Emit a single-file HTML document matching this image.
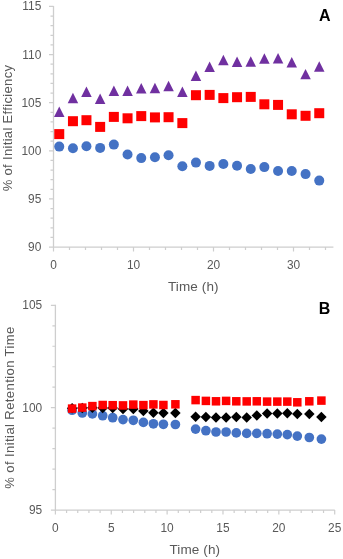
<!DOCTYPE html>
<html><head><meta charset="utf-8"><title>Chart</title>
<style>html,body{margin:0;padding:0;background:#fff}svg{display:block}</style>
</head><body>
<svg width="343" height="559" viewBox="0 0 343 559">
<rect width="343" height="559" fill="#fff"/>
<path d="M53.5 5.95V247.1H333.40000000000003" fill="none" stroke="#cecece" stroke-width="1.3"/>
<path d="M50.50 6.45H53.5M50.50 16.08H53.5M50.50 25.70H53.5M50.50 35.33H53.5M50.50 44.95H53.5M50.50 54.58H53.5M50.50 64.21H53.5M50.50 73.83H53.5M50.50 83.46H53.5M50.50 93.08H53.5M50.50 102.71H53.5M50.50 112.34H53.5M50.50 121.96H53.5M50.50 131.59H53.5M50.50 141.21H53.5M50.50 150.84H53.5M50.50 160.47H53.5M50.50 170.09H53.5M50.50 179.72H53.5M50.50 189.34H53.5M50.50 198.97H53.5M50.50 208.60H53.5M50.50 218.22H53.5M50.50 227.85H53.5M50.50 237.47H53.5M50.50 247.10H53.5M49.00 6.45H53.5M49.00 54.58H53.5M49.00 102.71H53.5M49.00 150.84H53.5M49.00 198.97H53.5M49.00 247.10H53.5M53.50 247.1v3.0M69.50 247.1v3.0M85.50 247.1v3.0M101.50 247.1v3.0M117.50 247.1v3.0M133.50 247.1v3.0M149.50 247.1v3.0M165.50 247.1v3.0M181.50 247.1v3.0M197.50 247.1v3.0M213.50 247.1v3.0M229.50 247.1v3.0M245.50 247.1v3.0M261.50 247.1v3.0M277.50 247.1v3.0M293.50 247.1v3.0M309.50 247.1v3.0M325.50 247.1v3.0M53.50 247.1v4.5M133.50 247.1v4.5M213.50 247.1v4.5M293.50 247.1v4.5" fill="none" stroke="#cecece" stroke-width="1.2"/>
<text x="41.3" y="10.45" text-anchor="end" font-size="11.9" fill="#595959" font-family="Liberation Sans, Arial, sans-serif">115</text>
<text x="41.3" y="58.58" text-anchor="end" font-size="11.9" fill="#595959" font-family="Liberation Sans, Arial, sans-serif">110</text>
<text x="41.3" y="106.71" text-anchor="end" font-size="11.9" fill="#595959" font-family="Liberation Sans, Arial, sans-serif">105</text>
<text x="41.3" y="154.84" text-anchor="end" font-size="11.9" fill="#595959" font-family="Liberation Sans, Arial, sans-serif">100</text>
<text x="41.3" y="202.97" text-anchor="end" font-size="11.9" fill="#595959" font-family="Liberation Sans, Arial, sans-serif">95</text>
<text x="41.3" y="251.10" text-anchor="end" font-size="11.9" fill="#595959" font-family="Liberation Sans, Arial, sans-serif">90</text>
<text x="53.50" y="268.8" text-anchor="middle" font-size="11.9" fill="#595959" font-family="Liberation Sans, Arial, sans-serif">0</text>
<text x="133.50" y="268.8" text-anchor="middle" font-size="11.9" fill="#595959" font-family="Liberation Sans, Arial, sans-serif">10</text>
<text x="213.50" y="268.8" text-anchor="middle" font-size="11.9" fill="#595959" font-family="Liberation Sans, Arial, sans-serif">20</text>
<text x="293.50" y="268.8" text-anchor="middle" font-size="11.9" fill="#595959" font-family="Liberation Sans, Arial, sans-serif">30</text>
<text x="193.3" y="290.8" text-anchor="middle" font-size="13.5" letter-spacing="0.12" fill="#595959" font-family="Liberation Sans, Arial, sans-serif">Time (h)</text>
<text transform="translate(12.2 128) rotate(-90)" text-anchor="middle" font-size="13.0" letter-spacing="0.33" fill="#595959" font-family="Liberation Sans, Arial, sans-serif">% of Initial Efficiency</text>
<text x="318.9" y="20.7" font-size="16" font-weight="bold" fill="#000" font-family="Liberation Sans, Arial, sans-serif">A</text>
<circle cx="59.25" cy="146.6" r="5" fill="#4472c4"/>
<circle cx="72.95" cy="148.2" r="5" fill="#4472c4"/>
<circle cx="86.45" cy="146.29999999999998" r="5" fill="#4472c4"/>
<circle cx="100.15" cy="147.89999999999998" r="5" fill="#4472c4"/>
<circle cx="113.85000000000001" cy="144.6" r="5" fill="#4472c4"/>
<circle cx="127.55000000000001" cy="154.5" r="5" fill="#4472c4"/>
<circle cx="141.25" cy="158.1" r="5" fill="#4472c4"/>
<circle cx="154.95000000000002" cy="157.2" r="5" fill="#4472c4"/>
<circle cx="168.55" cy="155.2" r="5" fill="#4472c4"/>
<circle cx="182.35" cy="166.29999999999998" r="5" fill="#4472c4"/>
<circle cx="195.95000000000002" cy="162.6" r="5" fill="#4472c4"/>
<circle cx="209.65" cy="165.89999999999998" r="5" fill="#4472c4"/>
<circle cx="223.35" cy="163.99999999999997" r="5" fill="#4472c4"/>
<circle cx="237.05" cy="165.7" r="5" fill="#4472c4"/>
<circle cx="250.75" cy="169.0" r="5" fill="#4472c4"/>
<circle cx="264.34999999999997" cy="167.1" r="5" fill="#4472c4"/>
<circle cx="278.04999999999995" cy="171.0" r="5" fill="#4472c4"/>
<circle cx="291.75" cy="170.99999999999997" r="5" fill="#4472c4"/>
<circle cx="305.54999999999995" cy="174.1" r="5" fill="#4472c4"/>
<circle cx="319.25" cy="180.6" r="5" fill="#4472c4"/>
<rect x="54.25" y="129.10" width="10" height="10" fill="#ff0000"/>
<rect x="67.95" y="116.20" width="10" height="10" fill="#ff0000"/>
<rect x="81.45" y="115.20" width="10" height="10" fill="#ff0000"/>
<rect x="95.15" y="121.90" width="10" height="10" fill="#ff0000"/>
<rect x="108.85" y="111.90" width="10" height="10" fill="#ff0000"/>
<rect x="122.55" y="113.30" width="10" height="10" fill="#ff0000"/>
<rect x="136.25" y="111.10" width="10" height="10" fill="#ff0000"/>
<rect x="149.95" y="112.40" width="10" height="10" fill="#ff0000"/>
<rect x="163.55" y="112.20" width="10" height="10" fill="#ff0000"/>
<rect x="177.35" y="118.10" width="10" height="10" fill="#ff0000"/>
<rect x="190.95" y="90.20" width="10" height="10" fill="#ff0000"/>
<rect x="204.65" y="89.90" width="10" height="10" fill="#ff0000"/>
<rect x="218.35" y="93.10" width="10" height="10" fill="#ff0000"/>
<rect x="232.05" y="92.20" width="10" height="10" fill="#ff0000"/>
<rect x="245.75" y="91.90" width="10" height="10" fill="#ff0000"/>
<rect x="259.35" y="99.30" width="10" height="10" fill="#ff0000"/>
<rect x="273.05" y="99.90" width="10" height="10" fill="#ff0000"/>
<rect x="286.75" y="109.30" width="10" height="10" fill="#ff0000"/>
<rect x="300.55" y="110.80" width="10" height="10" fill="#ff0000"/>
<rect x="314.25" y="108.20" width="10" height="10" fill="#ff0000"/>
<path d="M54.00 116.95L59.25 106.50L64.50 116.95Z" fill="#7030a0"/>
<path d="M67.70 103.25L72.95 92.80L78.20 103.25Z" fill="#7030a0"/>
<path d="M81.20 96.95L86.45 86.50L91.70 96.95Z" fill="#7030a0"/>
<path d="M94.90 104.05L100.15 93.60L105.40 104.05Z" fill="#7030a0"/>
<path d="M108.60 96.05L113.85 85.60L119.10 96.05Z" fill="#7030a0"/>
<path d="M122.30 96.05L127.55 85.60L132.80 96.05Z" fill="#7030a0"/>
<path d="M136.00 93.45L141.25 83.00L146.50 93.45Z" fill="#7030a0"/>
<path d="M149.70 93.25L154.95 82.80L160.20 93.25Z" fill="#7030a0"/>
<path d="M163.30 91.25L168.55 80.80L173.80 91.25Z" fill="#7030a0"/>
<path d="M177.10 96.95L182.35 86.50L187.60 96.95Z" fill="#7030a0"/>
<path d="M190.70 80.95L195.95 70.50L201.20 80.95Z" fill="#7030a0"/>
<path d="M204.40 72.05L209.65 61.60L214.90 72.05Z" fill="#7030a0"/>
<path d="M218.10 65.15L223.35 54.70L228.60 65.15Z" fill="#7030a0"/>
<path d="M231.80 67.05L237.05 56.60L242.30 67.05Z" fill="#7030a0"/>
<path d="M245.50 66.65L250.75 56.20L256.00 66.65Z" fill="#7030a0"/>
<path d="M259.10 63.75L264.35 53.30L269.60 63.75Z" fill="#7030a0"/>
<path d="M272.80 63.45L278.05 53.00L283.30 63.45Z" fill="#7030a0"/>
<path d="M286.50 67.45L291.75 57.00L297.00 67.45Z" fill="#7030a0"/>
<path d="M300.30 79.35L305.55 68.90L310.80 79.35Z" fill="#7030a0"/>
<path d="M314.00 71.65L319.25 61.20L324.50 71.65Z" fill="#7030a0"/>
<path d="M55.4 304.8V510.1H334.8" fill="none" stroke="#cecece" stroke-width="1.3"/>
<path d="M52.40 305.30H55.4M52.40 325.78H55.4M52.40 346.26H55.4M52.40 366.74H55.4M52.40 387.22H55.4M52.40 407.70H55.4M52.40 428.18H55.4M52.40 448.66H55.4M52.40 469.14H55.4M52.40 489.62H55.4M52.40 510.10H55.4M50.90 305.30H55.4M50.90 407.70H55.4M50.90 510.10H55.4M55.40 510.1v3.0M66.57 510.1v3.0M77.74 510.1v3.0M88.92 510.1v3.0M100.09 510.1v3.0M111.26 510.1v3.0M122.43 510.1v3.0M133.60 510.1v3.0M144.78 510.1v3.0M155.95 510.1v3.0M167.12 510.1v3.0M178.29 510.1v3.0M189.46 510.1v3.0M200.64 510.1v3.0M211.81 510.1v3.0M222.98 510.1v3.0M234.15 510.1v3.0M245.32 510.1v3.0M256.50 510.1v3.0M267.67 510.1v3.0M278.84 510.1v3.0M290.01 510.1v3.0M301.18 510.1v3.0M312.36 510.1v3.0M323.53 510.1v3.0M334.70 510.1v3.0M55.40 510.1v4.5M111.26 510.1v4.5M167.12 510.1v4.5M222.98 510.1v4.5M278.84 510.1v4.5M334.70 510.1v4.5" fill="none" stroke="#cecece" stroke-width="1.2"/>
<text x="42.2" y="309.30" text-anchor="end" font-size="11.9" fill="#595959" font-family="Liberation Sans, Arial, sans-serif">105</text>
<text x="42.2" y="411.70" text-anchor="end" font-size="11.9" fill="#595959" font-family="Liberation Sans, Arial, sans-serif">100</text>
<text x="42.2" y="514.10" text-anchor="end" font-size="11.9" fill="#595959" font-family="Liberation Sans, Arial, sans-serif">95</text>
<text x="55.40" y="532.3" text-anchor="middle" font-size="11.9" fill="#595959" font-family="Liberation Sans, Arial, sans-serif">0</text>
<text x="111.26" y="532.3" text-anchor="middle" font-size="11.9" fill="#595959" font-family="Liberation Sans, Arial, sans-serif">5</text>
<text x="167.12" y="532.3" text-anchor="middle" font-size="11.9" fill="#595959" font-family="Liberation Sans, Arial, sans-serif">10</text>
<text x="222.98" y="532.3" text-anchor="middle" font-size="11.9" fill="#595959" font-family="Liberation Sans, Arial, sans-serif">15</text>
<text x="278.84" y="532.3" text-anchor="middle" font-size="11.9" fill="#595959" font-family="Liberation Sans, Arial, sans-serif">20</text>
<text x="334.70" y="532.3" text-anchor="middle" font-size="11.9" fill="#595959" font-family="Liberation Sans, Arial, sans-serif">25</text>
<text x="194.8" y="554.0" text-anchor="middle" font-size="13.5" letter-spacing="0.12" fill="#595959" font-family="Liberation Sans, Arial, sans-serif">Time (h)</text>
<text transform="translate(14.0 407.5) rotate(-90)" text-anchor="middle" font-size="13.0" letter-spacing="0.42" fill="#595959" font-family="Liberation Sans, Arial, sans-serif">% of Initial Retention Time</text>
<text x="318.8" y="313.5" font-size="16" font-weight="bold" fill="#000" font-family="Liberation Sans, Arial, sans-serif">B</text>
<circle cx="72.1" cy="410.2" r="4.85" fill="#4472c4"/>
<circle cx="82.3" cy="413.0" r="4.85" fill="#4472c4"/>
<circle cx="92.4" cy="413.9" r="4.85" fill="#4472c4"/>
<circle cx="102.7" cy="415.7" r="4.85" fill="#4472c4"/>
<circle cx="112.7" cy="417.7" r="4.85" fill="#4472c4"/>
<circle cx="123.0" cy="419.6" r="4.85" fill="#4472c4"/>
<circle cx="133.3" cy="420.3" r="4.85" fill="#4472c4"/>
<circle cx="143.4" cy="422.4" r="4.85" fill="#4472c4"/>
<circle cx="153.4" cy="423.8" r="4.85" fill="#4472c4"/>
<circle cx="163.4" cy="424.3" r="4.85" fill="#4472c4"/>
<circle cx="175.4" cy="424.5" r="4.85" fill="#4472c4"/>
<circle cx="195.6" cy="429.1" r="4.85" fill="#4472c4"/>
<circle cx="205.9" cy="430.7" r="4.85" fill="#4472c4"/>
<circle cx="216.0" cy="432.0" r="4.85" fill="#4472c4"/>
<circle cx="226.1" cy="432.0" r="4.85" fill="#4472c4"/>
<circle cx="236.3" cy="432.9" r="4.85" fill="#4472c4"/>
<circle cx="246.7" cy="433.4" r="4.85" fill="#4472c4"/>
<circle cx="256.8" cy="433.4" r="4.85" fill="#4472c4"/>
<circle cx="267.1" cy="433.7" r="4.85" fill="#4472c4"/>
<circle cx="277.3" cy="434.1" r="4.85" fill="#4472c4"/>
<circle cx="287.3" cy="434.6" r="4.85" fill="#4472c4"/>
<circle cx="297.3" cy="436.1" r="4.85" fill="#4472c4"/>
<circle cx="309.3" cy="437.5" r="4.85" fill="#4472c4"/>
<circle cx="321.4" cy="439.1" r="4.85" fill="#4472c4"/>
<path d="M66.85 408.30L72.10 403.05L77.35 408.30L72.10 413.55Z" fill="#000"/>
<path d="M77.05 408.10L82.30 402.85L87.55 408.10L82.30 413.35Z" fill="#000"/>
<path d="M87.15 407.70L92.40 402.45L97.65 407.70L92.40 412.95Z" fill="#000"/>
<path d="M97.45 407.90L102.70 402.65L107.95 407.90L102.70 413.15Z" fill="#000"/>
<path d="M107.45 408.10L112.70 402.85L117.95 408.10L112.70 413.35Z" fill="#000"/>
<path d="M117.75 408.90L123.00 403.65L128.25 408.90L123.00 414.15Z" fill="#000"/>
<path d="M128.05 408.90L133.30 403.65L138.55 408.90L133.30 414.15Z" fill="#000"/>
<path d="M138.15 411.10L143.40 405.85L148.65 411.10L143.40 416.35Z" fill="#000"/>
<path d="M148.15 412.80L153.40 407.55L158.65 412.80L153.40 418.05Z" fill="#000"/>
<path d="M158.15 412.90L163.40 407.65L168.65 412.90L163.40 418.15Z" fill="#000"/>
<path d="M170.15 413.10L175.40 407.85L180.65 413.10L175.40 418.35Z" fill="#000"/>
<path d="M190.35 416.70L195.60 411.45L200.85 416.70L195.60 421.95Z" fill="#000"/>
<path d="M200.65 417.10L205.90 411.85L211.15 417.10L205.90 422.35Z" fill="#000"/>
<path d="M210.75 417.40L216.00 412.15L221.25 417.40L216.00 422.65Z" fill="#000"/>
<path d="M220.85 417.40L226.10 412.15L231.35 417.40L226.10 422.65Z" fill="#000"/>
<path d="M231.05 417.10L236.30 411.85L241.55 417.10L236.30 422.35Z" fill="#000"/>
<path d="M241.45 417.60L246.70 412.35L251.95 417.60L246.70 422.85Z" fill="#000"/>
<path d="M251.55 415.40L256.80 410.15L262.05 415.40L256.80 420.65Z" fill="#000"/>
<path d="M261.85 413.60L267.10 408.35L272.35 413.60L267.10 418.85Z" fill="#000"/>
<path d="M272.05 413.60L277.30 408.35L282.55 413.60L277.30 418.85Z" fill="#000"/>
<path d="M282.05 413.20L287.30 407.95L292.55 413.20L287.30 418.45Z" fill="#000"/>
<path d="M292.05 413.90L297.30 408.65L302.55 413.90L297.30 419.15Z" fill="#000"/>
<path d="M304.05 413.90L309.30 408.65L314.55 413.90L309.30 419.15Z" fill="#000"/>
<path d="M316.15 417.10L321.40 411.85L326.65 417.10L321.40 422.35Z" fill="#000"/>
<rect x="67.85" y="404.35" width="8.5" height="8.5" fill="#ff0000"/>
<rect x="78.05" y="403.35" width="8.5" height="8.5" fill="#ff0000"/>
<rect x="88.15" y="401.85" width="8.5" height="8.5" fill="#ff0000"/>
<rect x="98.45" y="400.75" width="8.5" height="8.5" fill="#ff0000"/>
<rect x="108.45" y="400.95" width="8.5" height="8.5" fill="#ff0000"/>
<rect x="118.75" y="401.15" width="8.5" height="8.5" fill="#ff0000"/>
<rect x="129.05" y="400.35" width="8.5" height="8.5" fill="#ff0000"/>
<rect x="139.15" y="400.85" width="8.5" height="8.5" fill="#ff0000"/>
<rect x="149.15" y="400.15" width="8.5" height="8.5" fill="#ff0000"/>
<rect x="159.15" y="400.75" width="8.5" height="8.5" fill="#ff0000"/>
<rect x="171.15" y="400.05" width="8.5" height="8.5" fill="#ff0000"/>
<rect x="191.35" y="395.85" width="8.5" height="8.5" fill="#ff0000"/>
<rect x="201.65" y="396.65" width="8.5" height="8.5" fill="#ff0000"/>
<rect x="211.75" y="397.05" width="8.5" height="8.5" fill="#ff0000"/>
<rect x="221.85" y="396.65" width="8.5" height="8.5" fill="#ff0000"/>
<rect x="232.05" y="397.05" width="8.5" height="8.5" fill="#ff0000"/>
<rect x="242.45" y="397.15" width="8.5" height="8.5" fill="#ff0000"/>
<rect x="252.55" y="397.05" width="8.5" height="8.5" fill="#ff0000"/>
<rect x="262.85" y="397.35" width="8.5" height="8.5" fill="#ff0000"/>
<rect x="273.05" y="397.35" width="8.5" height="8.5" fill="#ff0000"/>
<rect x="283.05" y="397.35" width="8.5" height="8.5" fill="#ff0000"/>
<rect x="293.05" y="398.05" width="8.5" height="8.5" fill="#ff0000"/>
<rect x="305.05" y="397.05" width="8.5" height="8.5" fill="#ff0000"/>
<rect x="317.15" y="396.35" width="8.5" height="8.5" fill="#ff0000"/>
</svg>
</body></html>
